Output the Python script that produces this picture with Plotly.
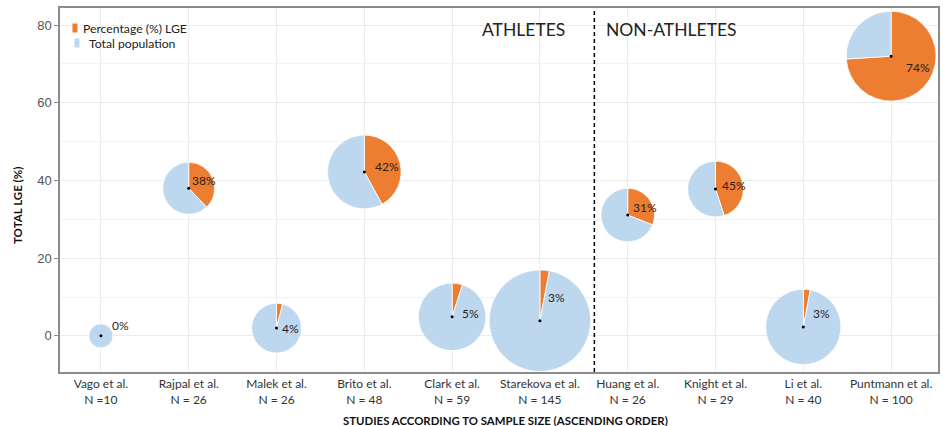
import plotly.graph_objects as go

# ---------------- data ----------------
studies = ["Vago et al.", "Rajpal et al.", "Malek et al.", "Brito et al.", "Clark et al.",
           "Starekova et al.", "Huang et al.", "Knight et al.", "Li et al.", "Puntmann et al."]
tick_labels = ["Vago et al.<br>N =10", "Rajpal et al.<br>N = 26", "Malek et al.<br>N = 26",
               "Brito et al.<br>N = 48", "Clark et al.<br>N = 59", "Starekova et al.<br>N = 145",
               "Huang et al.<br>N = 26", "Knight et al.<br>N = 29", "Li et al.<br>N = 40",
               "Puntmann et al.<br>N = 100"]
sample_size = [10, 26, 26, 48, 59, 145, 26, 29, 40, 100]
total_lge = [0, 38, 2, 42.2, 4.9, 3.9, 31.1, 37.8, 2.3, 72]       # y position (TOTAL LGE %)
lge_pct = [0, 38, 4, 42, 5, 3, 31, 45, 3, 74]                     # pie slice (%)
circle_size = [3.1, 6.7, 6.4, 9.5, 8.7, 13.1, 6.9, 7.2, 9.7, 11.6]  # pie radius in y-axis units
group_split = 5.62                                                 # athletes / non-athletes boundary
legend_labels = ["Percentage (%) LGE", "Total population"]

# ---------------- layout geometry ----------------
W, H = 943, 426
ML, MR, MT, MB = 60, 3, 8, 54
PW, PH = W - ML - MR, H - MT - MB
X_RANGE = [-0.466, 9.534]
Y_RANGE = [-9.3, 84.4]

ORANGE = "#ED7D31"
BLUE = "#BDD7EE"

label_dx = [9, 1, 3, 9, 8, 6, 3, 4, 8, 13]
label_dy = [10, 8, 0, 5, 3, 23, 8, 4, 13, -11]

fig = go.Figure()

def to_px(xv, yv):
    px = (xv - X_RANGE[0]) / (X_RANGE[1] - X_RANGE[0]) * PW
    py = (yv - Y_RANGE[0]) / (Y_RANGE[1] - Y_RANGE[0]) * PH
    return px, py

ppu = PH / (Y_RANGE[1] - Y_RANGE[0])

for i, (name, yv, pct, r) in enumerate(zip(studies, total_lge, lge_pct, circle_size)):
    cx, cy = to_px(i, yv)
    rp = r * ppu
    dx = [max(0, (cx - rp) / PW), min(1, (cx + rp) / PW)]
    dy = [max(0, (cy - rp) / PH), min(1, (cy + rp) / PH)]
    fig.add_trace(go.Pie(
        labels=legend_labels,
        values=[pct, 100 - pct],
        marker=dict(colors=[ORANGE, BLUE], line=dict(color="white", width=0.8)),
        sort=False, direction="clockwise", rotation=0,
        textinfo="none", domain=dict(x=dx, y=dy),
        showlegend=False, name=name,
        hovertemplate=name + "<br>%{label}: %{value}%<extra></extra>",
    ))
    fig.add_shape(type="circle", xref="x", yref="y", xsizemode="pixel", ysizemode="pixel",
                  xanchor=i, yanchor=yv, x0=-1.5, x1=1.5, y0=-1.5, y1=1.5,
                  fillcolor="black", line=dict(width=0), layer="above")
    fig.add_annotation(x=i, y=yv, xref="x", yref="y", text=f"{pct}%", showarrow=False,
                       xanchor="left", yanchor="middle", xshift=label_dx[i], yshift=label_dy[i],
                       font=dict(family="Lato", size=12, color="#2b1d1d"))

# invisible scatter to activate the cartesian axes
fig.add_trace(go.Scatter(x=list(range(len(studies))), y=total_lge, mode="markers",
                         marker=dict(size=1, opacity=0), showlegend=False, hoverinfo="skip"))

fig.add_shape(type="line", xref="x", yref="paper", x0=group_split, x1=group_split, y0=0, y1=1,
              line=dict(color="black", width=1.5, dash="4px,3px"), layer="above")

fig.add_annotation(x=group_split, y=1, xref="x", yref="paper", text="ATHLETES", showarrow=False,
                   xanchor="right", yanchor="top", xshift=-27, yshift=-9,
                   font=dict(family="Lato", size=17.5, color="#222"))
fig.add_annotation(x=group_split, y=1, xref="x", yref="paper", text="NON-ATHLETES", showarrow=False,
                   xanchor="left", yanchor="top", xshift=10, yshift=-9,
                   font=dict(family="Lato", size=17.5, color="#222"))

# manual legend (top-left inside the panel)
legend_rows = [(28, 75, 81, ORANGE), (43, 77, 87, BLUE)]  # (y px, square x px, text x px, colour)
for (ly, sx, tx, col), lab in zip(legend_rows, legend_labels):
    fig.add_shape(type="rect", xref="paper", yref="paper", xsizemode="pixel", ysizemode="pixel",
                  xanchor=(sx - ML) / PW, yanchor=1 - (ly - MT) / PH,
                  x0=-2.5, x1=2.5, y0=-4.5, y1=4.5, fillcolor=col, line=dict(width=0), layer="above")
    fig.add_annotation(x=(tx - ML) / PW, y=1 - (ly - MT) / PH, xref="paper", yref="paper",
                       text=lab, showarrow=False, xanchor="left", yanchor="middle",
                       font=dict(family="Lato", size=12.2, color="#222"))

# axis titles
fig.add_annotation(x=(507 - ML) / PW, y=0, xref="paper", yref="paper",
                   text="<b>STUDIES ACCORDING TO SAMPLE SIZE (ASCENDING ORDER)</b>", showarrow=False,
                   xanchor="center", yanchor="middle", yshift=-(420 - (MT + PH)),
                   font=dict(family="Lato", size=11.4, color="#111"))
fig.add_annotation(x=0, y=1 - (206 - MT) / PH, xref="paper", yref="paper",
                   text="<b>TOTAL LGE (%)</b>", showarrow=False, textangle=-90,
                   xanchor="center", yanchor="middle", xshift=-(ML - 18),
                   font=dict(family="Lato", size=11.5, color="#111"))

fig.update_layout(
    width=W, height=H,
    margin=dict(l=ML, r=MR, t=MT, b=MB),
    paper_bgcolor="white", plot_bgcolor="white",
    font=dict(family="Lato", color="#333"),
    showlegend=False,
    xaxis=dict(range=X_RANGE, tickmode="array", tickvals=list(range(len(studies))),
               ticktext=tick_labels, showgrid=True, gridcolor="#ececec", gridwidth=1,
               zeroline=False, showline=True, linecolor="#8c8c8c", linewidth=1.5, mirror=True,
               ticks="", tickfont=dict(family="Lato", size=12, color="#333")),
    yaxis=dict(range=Y_RANGE, tickmode="linear", tick0=0, dtick=20, showgrid=True,
               gridcolor="#ececec", gridwidth=1, zeroline=False,
               minor=dict(dtick=10, showgrid=True, gridcolor="#f3f3f3"),
               showline=True, linecolor="#8c8c8c", linewidth=1.5, mirror=True,
               ticks="outside", ticklen=4, tickcolor="#8c8c8c",
               tickfont=dict(family="Liberation Sans", size=13, color="#555")),
)

fig.write_html("out.html")
